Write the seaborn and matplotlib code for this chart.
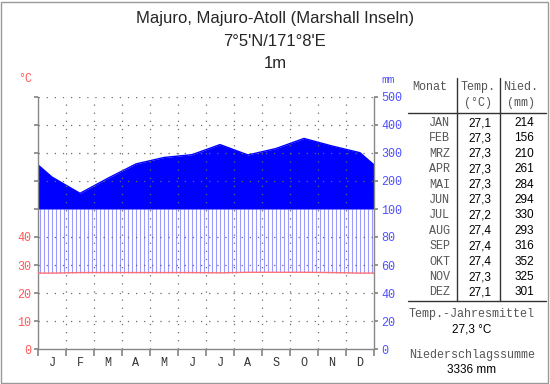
import numpy as np
import pandas as pd
import matplotlib.pyplot as plt
import seaborn as sns
from matplotlib.lines import Line2D
from matplotlib.patches import Rectangle

# Klimadaten Majuro
months = ["J", "F", "M", "A", "M", "J", "J", "A", "S", "O", "N", "D"]
month_names = ["JAN", "FEB", "MRZ", "APR", "MAI", "JUN", "JUL", "AUG", "SEP", "OKT", "NOV", "DEZ"]
temp = [27.1, 27.3, 27.3, 27.3, 27.3, 27.3, 27.2, 27.4, 27.4, 27.4, 27.3, 27.1]
precip = [214, 156, 210, 261, 284, 294, 330, 293, 316, 352, 325, 301]
temp_ticks = [0, 10, 20, 30, 40]
precip_ticks = [0, 20, 40, 60, 80, 100, 200, 300, 400, 500]
title_lines = ["Majuro, Majuro-Atoll (Marshall Inseln)", "7°5'N/171°8'E", "1m"]
mean_temp = "27,3 °C"
total_precip = "3336 mm"

RED = "#ff5a5a"
BLUE = "#5050ff"
MONO = "Liberation Mono"
SANS = "Liberation Sans"
W, H = 550, 384


def p2y(p):
    # Niederschlag -> Diagrammeinheit (20 mm = 10 °C, über 100 mm gestaucht)
    p = np.asarray(p, float)
    return np.where(p <= 100, p / 2, 50 + (p - 100) / 10)


# Monatsmitte + Ränder (Mittel aus Dez/Jan)
xs = np.concatenate([[0], np.arange(12) + 0.5, [12]])
t_ext = np.concatenate([[(temp[0] + temp[-1]) / 2], temp, [(temp[0] + temp[-1]) / 2]])
p_ext = np.concatenate([[(precip[0] + precip[-1]) / 2], precip, [(precip[0] + precip[-1]) / 2]])
df = pd.DataFrame({"x": xs, "t": t_ext, "p": p2y(p_ext)})

sns.set_theme(style="white")
fig = plt.figure(figsize=(W / 100, H / 100), dpi=100)
ax = fig.add_axes([38 / W, 1 - 349 / H, 336 / W, 252 / H])

# feuchte Zeit: Schraffur, Niederschlag > 100 mm: voll blau
ax.fill_between(df["x"], 50, df["p"], where=df["p"] >= 50, color="#0000ff", lw=0, zorder=2)
sns.lineplot(data=df, x="x", y="p", color="#0000ff", lw=1, ax=ax, zorder=2)
hx = np.arange(1 / 14, 12, 1 / 7)
ax.vlines(hx, np.interp(hx, xs, t_ext), np.minimum(50, np.interp(hx, xs, df["p"])),
          color="#9a9aff", lw=0.8, zorder=1)
sns.lineplot(data=df, x="x", y="t", color="#ff7070", lw=1, ax=ax, zorder=3)

# gepunktetes Gitter
dots = dict(ls=(0, (1, 5.5)), color="#6a6a6a", lw=0.9, zorder=4)
for k in range(1, 12):
    ax.axvline(k, **dots)
for v in [10, 20, 30, 40, 60, 70, 80, 90]:
    ax.axhline(v, **dots)

ax.set_xlim(0, 12)
ax.set_ylim(0, 90)
ax.set_xlabel("")
ax.set_ylabel("")
ax.set_xticks(range(13))
ax.set_xticklabels([])
ax.set_xticks(np.arange(12) + 0.5, minor=True)
ax.set_xticklabels(months, minor=True, family=MONO, fontsize=8.5, color="#333333")
ax.tick_params(axis="x", which="major", length=5, color="#888888", direction="out", bottom=True)
ax.tick_params(axis="x", which="minor", length=0, pad=6)
ax.set_yticks(range(0, 100, 10))
ax.set_yticklabels([str(v) if v in temp_ticks else "" for v in range(0, 100, 10)],
                   family=MONO, fontsize=8.5, color=RED)
ax.tick_params(axis="y", length=3, color="#888888", direction="out", left=True, pad=2)
for s in ["top", "right"]:
    ax.spines[s].set_visible(False)
for s in ["left", "bottom"]:
    ax.spines[s].set_color("#888888")
    ax.spines[s].set_linewidth(1)

ax2 = ax.twinx()
ax2.set_ylim(0, 90)
ax2.set_yticks(p2y(precip_ticks))
ax2.set_yticklabels(precip_ticks, family=MONO, fontsize=8.5, color=BLUE)
ax2.tick_params(axis="y", length=3, color="#888888", direction="out", right=True, pad=2)
ax2.grid(False)
for s in ["top", "left", "bottom"]:
    ax2.spines[s].set_visible(False)
ax2.spines["right"].set_color("#888888")
ax2.spines["right"].set_linewidth(1)

fig.text(25 / W, 1 - 79 / H, "°C", family=MONO, fontsize=8.5, color=RED, ha="center", va="center")
fig.text(388 / W, 1 - 80 / H, "mm", family=MONO, fontsize=8, color=BLUE, ha="center", va="center")

# Titel
for txt, yy in zip(title_lines, [18, 41, 63]):
    fig.text(275 / W, 1 - yy / H, txt, family=SANS, fontsize=12, ha="center", va="center")

# Tabelle rechts
def line(x0, y0, x1, y1):
    fig.add_artist(Line2D([x0 / W, x1 / W], [1 - y0 / H, 1 - y1 / H], color="#333333", lw=1))

line(457, 78, 457, 301)
line(500, 78, 500, 301)
line(408, 113, 546, 113)
line(408, 301, 546, 301)

grey = "#555555"
fig.text(430 / W, 1 - 87 / H, "Monat", family=MONO, fontsize=8.5, color=grey, ha="center", va="center")
fig.text(478 / W, 1 - 87 / H, "Temp.", family=MONO, fontsize=8.5, color=grey, ha="center", va="center")
fig.text(478 / W, 1 - 103 / H, "(°C)", family=MONO, fontsize=8.5, color=grey, ha="center", va="center")
fig.text(521 / W, 1 - 87 / H, "Nied.", family=MONO, fontsize=8.5, color=grey, ha="center", va="center")
fig.text(521 / W, 1 - 103 / H, "(mm)", family=MONO, fontsize=8.5, color=grey, ha="center", va="center")
for i, (m, t, p) in enumerate(zip(month_names, temp, precip)):
    yy = 1 - (123 + i * 15.4) / H
    fig.text(450 / W, yy, m, family=MONO, fontsize=8.5, color=grey, ha="right", va="center")
    fig.text(480 / W, yy, f"{t:.1f}".replace(".", ","), family=SANS, fontsize=8.5,
             color="black", ha="center", va="center")
    fig.text(534 / W, yy, str(p), family=SANS, fontsize=8.5, color="black", ha="right", va="center")

fig.text(472 / W, 1 - 314 / H, "Temp.-Jahresmittel", family=MONO, fontsize=8.5, color=grey,
         ha="center", va="center")
fig.text(472 / W, 1 - 330 / H, mean_temp, family=SANS, fontsize=8.5, color="black", ha="center", va="center")
fig.text(472 / W, 1 - 355 / H, "Niederschlagssumme", family=MONO, fontsize=8.5, color=grey,
         ha="center", va="center")
fig.text(472 / W, 1 - 370 / H, total_precip, family=SANS, fontsize=8.5, color="black", ha="center", va="center")

fig.add_artist(Rectangle((1 / W, 1 / H), 1 - 3 / W, 1 - 3 / H, transform=fig.transFigure,
                         fill=False, edgecolor="#999999", lw=1))

fig.savefig("out.png", dpi=100)
